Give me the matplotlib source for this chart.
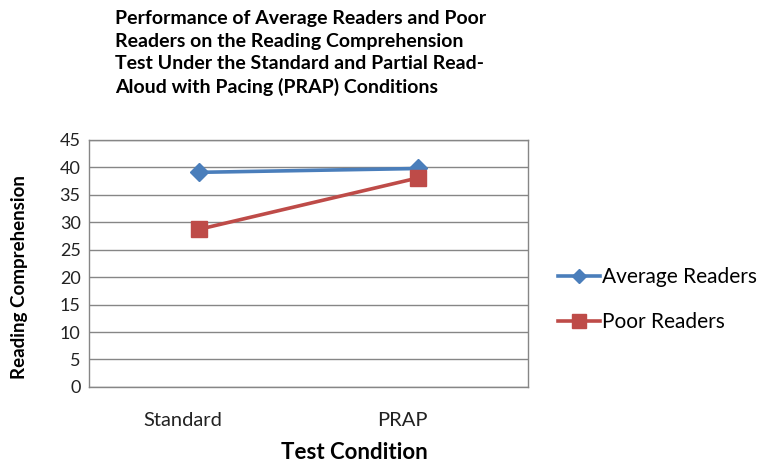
import matplotlib.pyplot as plt
import matplotlib.transforms as mtransforms
from matplotlib.lines import Line2D

# data
conditions = ["Standard", "PRAP"]
average_readers = [39.1, 39.8]
poor_readers = [28.7, 38.1]
y_ticks = [0, 5, 10, 15, 20, 25, 30, 35, 40, 45]

title = ("Performance of Average Readers and Poor\n"
         "Readers on the Reading Comprehension\n"
         "Test Under the Standard and Partial Read-\n"
         "Aloud with Pacing (PRAP) Conditions")

plt.rcParams["font.family"] = ["Lato", "DejaVu Sans"]

blue = "#4A7EBB"
red = "#BE4B48"
grey = "#868686"

fig = plt.figure(figsize=(7.6, 4.65), dpi=100)
ax = fig.add_axes([0.117, 0.168, 0.578, 0.531])

x = range(len(conditions))
ax.plot(x, average_readers, color=blue, lw=2.6, marker="D", ms=9,
        mec=blue, mfc=blue, zorder=3, label="Average Readers")
ax.plot(x, poor_readers, color=red, lw=2.6, marker="s", ms=11,
        mec=red, mfc=red, zorder=3, label="Poor Readers")

ax.set_xlim(-0.5, 1.5)
ax.set_ylim(0, 45)
ax.set_yticks(y_ticks)
ax.set_xticks(list(x))
ax.set_xticklabels(conditions)
ax.tick_params(axis="both", length=0, labelsize=13, colors="#222222")
ax.tick_params(axis="x", pad=18, labelsize=14.5)
ax.tick_params(axis="y", pad=6)
ax.yaxis.grid(True, color=grey, lw=1)
ax.set_axisbelow(True)
for sp in ax.spines.values():
    sp.set_color(grey)
    sp.set_linewidth(1)

# the category labels sit a little left of the points in the original
shift = mtransforms.ScaledTranslation(-16 / 100, 0, fig.dpi_scale_trans)
for lbl in ax.get_xticklabels():
    lbl.set_transform(lbl.get_transform() + shift)

fig.text(0.466, 0.027, "Test Condition", fontsize=16, fontweight="bold",
         ha="center", va="center")
fig.text(0.026, 0.404, "Reading Comprehension", fontsize=13.5,
         fontweight="bold", rotation=90, ha="center", va="center")

fig.text(0.151, 0.978, title, fontsize=14, fontweight="bold",
         ha="left", va="top", linespacing=1.38)

handles = [
    Line2D([], [], color=blue, lw=2.6, marker="D", ms=7),
    Line2D([], [], color=red, lw=2.6, marker="s", ms=10),
]
fig.legend(handles, ["Average Readers", "Poor Readers"],
           loc="center left", bbox_to_anchor=(0.71, 0.355),
           frameon=False, fontsize=15, handlelength=2.0,
           handletextpad=0.1, labelspacing=1.2)

plt.savefig("out.png", dpi=100)
plt.close()
